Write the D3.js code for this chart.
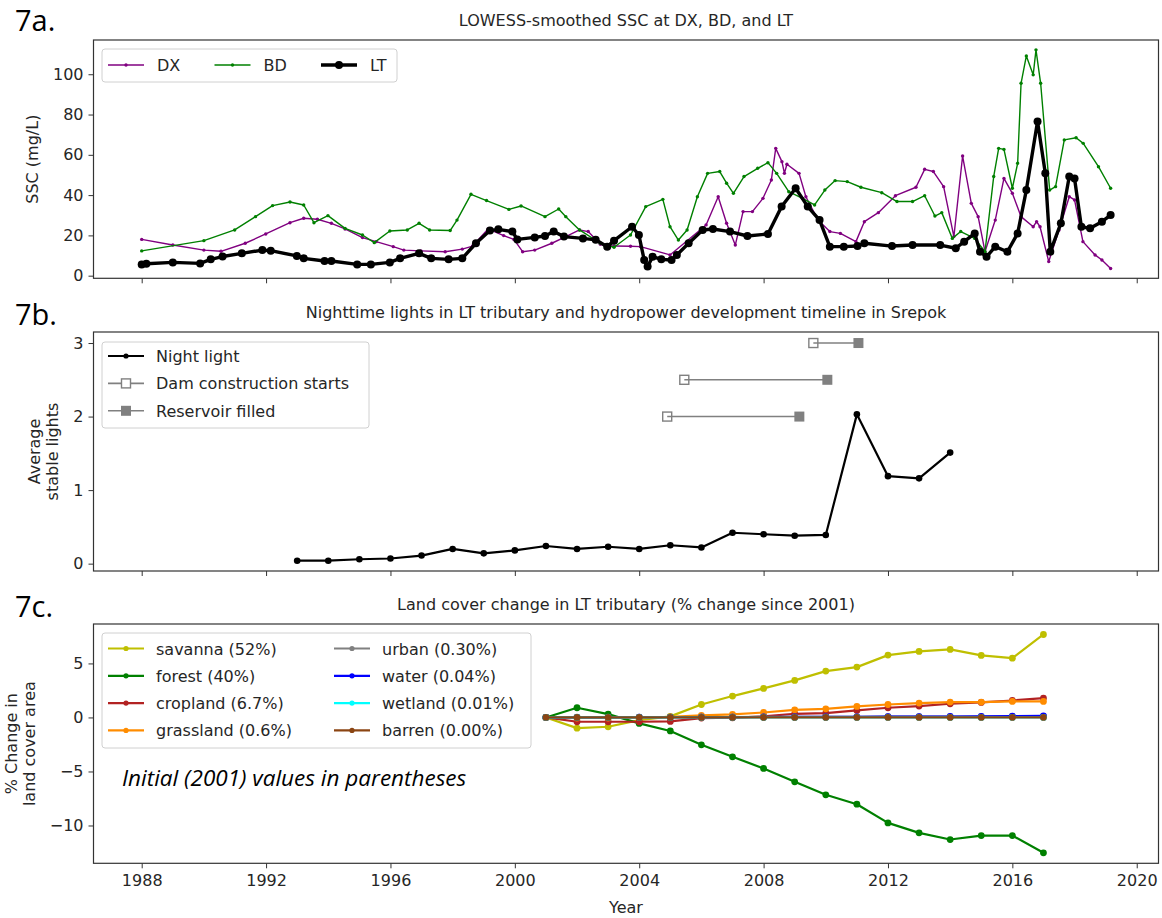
<!DOCTYPE html>
<html>
<head>
<meta charset="utf-8">
<script src="https://cdn.jsdelivr.net/npm/d3@7"></script>
<style>
  body { margin: 0; background: #fff; }
  svg { display: block; }
  text { font-family: "DejaVu Sans", sans-serif; fill: #262626; }
</style>
</head>
<body>
<svg id="fig" width="1162" height="918"></svg>
<script>
// ---------- 7a: LOWESS-smoothed SSC (mg/L) ----------
const dxYear = [1988.00, 1989.00, 1990.00, 1990.55, 1991.33, 1991.99, 1992.77, 1993.21, 1993.65, 1994.10, 1994.54, 1995.10, 1995.54, 1996.09, 1996.43, 1996.98, 1997.76, 1998.31, 1998.64, 1999.14, 1999.64, 1999.97, 2000.25, 2000.64, 2001.19, 2001.64, 2002.08, 2002.36, 2002.75, 2003.19, 2003.72, 2004.04, 2004.99, 2006.15, 2006.54, 2006.81, 2007.09, 2007.34, 2007.64, 2007.98, 2008.25, 2008.39, 2008.59, 2008.67, 2008.75, 2009.14, 2009.36, 2009.75, 2010.13, 2010.47, 2010.97, 2011.24, 2011.69, 2012.24, 2012.90, 2013.18, 2013.46, 2013.79, 2014.12, 2014.40, 2014.68, 2014.90, 2015.12, 2015.45, 2015.73, 2016.00, 2016.28, 2016.67, 2016.78, 2016.89, 2017.17, 2017.50, 2017.83, 2018.00, 2018.27, 2018.66, 2018.88, 2019.16];
const dxSSC = [18.0, 15.2, 12.7, 12.1, 16.1, 20.7, 26.3, 28.5, 28.0, 26.0, 23.2, 18.9, 16.9, 14.4, 12.7, 12.3, 11.9, 13.2, 14.7, 23.2, 19.9, 18.0, 11.9, 12.7, 16.1, 19.4, 22.7, 21.9, 15.6, 14.7, 14.6, 14.4, 10.3, 25.2, 39.2, 26.0, 15.2, 31.8, 31.8, 38.4, 47.5, 63.2, 56.6, 50.8, 55.3, 50.8, 39.2, 27.6, 21.9, 21.0, 16.9, 26.8, 31.3, 39.7, 43.9, 52.8, 51.7, 44.2, 19.4, 59.4, 35.9, 29.3, 11.9, 27.6, 48.3, 40.9, 29.3, 24.3, 26.8, 24.3, 7.0, 22.7, 39.2, 37.6, 16.9, 10.3, 7.8, 3.6];

const bdYear = [1988.00, 1990.00, 1990.99, 1991.66, 1992.21, 1992.77, 1993.21, 1993.54, 1993.99, 1994.54, 1995.10, 1995.48, 1995.98, 1996.54, 1996.92, 1997.26, 1997.92, 1998.14, 1998.59, 1999.09, 1999.81, 2000.20, 2000.97, 2001.41, 2001.64, 2002.08, 2002.75, 2003.19, 2003.72, 2004.21, 2004.76, 2004.99, 2005.26, 2005.54, 2005.87, 2006.20, 2006.59, 2006.81, 2007.03, 2007.37, 2007.81, 2008.14, 2008.42, 2008.81, 2009.25, 2009.64, 2009.97, 2010.30, 2010.69, 2011.13, 2011.80, 2012.29, 2012.79, 2013.18, 2013.51, 2013.73, 2014.07, 2014.34, 2014.79, 2015.12, 2015.40, 2015.56, 2015.73, 2016.00, 2016.17, 2016.28, 2016.45, 2016.67, 2016.76, 2016.91, 2017.20, 2017.39, 2017.67, 2018.05, 2018.28, 2018.77, 2019.16];
const bdSSC = [12.3, 17.4, 22.7, 29.3, 34.8, 36.6, 35.1, 26.3, 29.8, 23.5, 20.2, 16.4, 22.2, 22.7, 26.0, 22.7, 22.4, 27.6, 40.4, 37.3, 32.9, 34.6, 29.3, 33.1, 29.3, 22.7, 16.1, 14.1, 20.2, 34.3, 37.9, 24.3, 17.7, 22.7, 39.2, 50.8, 51.7, 45.9, 40.9, 49.2, 53.3, 56.1, 50.8, 41.7, 38.4, 35.1, 42.5, 47.2, 46.7, 43.9, 41.2, 36.8, 36.8, 39.7, 29.6, 31.3, 18.5, 21.9, 18.5, 11.9, 49.2, 63.2, 62.7, 43.4, 55.8, 95.5, 109.1, 99.7, 112.1, 95.5, 42.5, 44.2, 67.4, 68.5, 65.7, 54.1, 43.4];

const ltYear = [1988.00, 1988.15, 1989.00, 1989.88, 1990.22, 1990.60, 1991.22, 1991.88, 1992.15, 1992.99, 1993.21, 1993.88, 1994.10, 1994.93, 1995.37, 1995.98, 1996.31, 1996.92, 1997.31, 1997.87, 1998.31, 1998.75, 1999.20, 1999.47, 1999.92, 2000.08, 2000.64, 2000.97, 2001.25, 2001.58, 2002.19, 2002.60, 2002.97, 2003.19, 2003.77, 2003.99, 2004.16, 2004.27, 2004.43, 2004.71, 2005.04, 2005.21, 2005.59, 2006.04, 2006.37, 2006.92, 2007.48, 2008.14, 2008.58, 2009.03, 2009.42, 2009.80, 2010.13, 2010.58, 2011.02, 2011.24, 2012.13, 2012.79, 2013.68, 2014.18, 2014.45, 2014.79, 2014.96, 2015.17, 2015.45, 2015.84, 2016.17, 2016.45, 2016.81, 2017.06, 2017.22, 2017.56, 2017.83, 2018.00, 2018.22, 2018.50, 2018.88, 2019.16];
const ltSSC = [5.6, 5.9, 6.6, 6.1, 8.1, 9.5, 11.1, 12.7, 12.4, 9.8, 8.6, 7.3, 7.3, 5.6, 5.6, 6.6, 8.6, 11.1, 8.6, 8.1, 8.6, 16.1, 22.4, 23.0, 21.9, 18.0, 19.0, 19.7, 21.9, 19.4, 18.5, 17.8, 14.4, 17.4, 24.3, 20.2, 7.8, 4.5, 9.4, 8.1, 7.8, 10.3, 16.1, 22.7, 23.2, 21.9, 19.7, 20.7, 34.3, 43.4, 34.3, 27.6, 14.4, 14.4, 14.7, 16.1, 14.7, 15.2, 15.2, 13.6, 16.9, 21.0, 11.9, 9.4, 14.4, 11.9, 21.0, 42.5, 76.5, 50.8, 11.9, 26.0, 49.2, 48.3, 24.3, 23.5, 26.8, 30.1];

const sscTicks = [0, 20, 40, 60, 80, 100];

// ---------- 7b: night lights and dam timeline ----------
const lightYears = [1993, 1994, 1995, 1996, 1997, 1998, 1999, 2000, 2001, 2002, 2003, 2004, 2005, 2006, 2007, 2008, 2009, 2010, 2011, 2012, 2013, 2014];
const lightValues = [0.04, 0.04, 0.06, 0.07, 0.11, 0.20, 0.14, 0.18, 0.24, 0.20, 0.23, 0.20, 0.25, 0.22, 0.42, 0.40, 0.38, 0.39, 2.03, 1.19, 1.16, 1.51];
const damStart = [2004.9, 2005.45, 2009.6];
const damFilled = [2009.15, 2010.05, 2011.05];
const damRow = [2, 2.5, 3];
const lightTicks = [0, 1, 2, 3];

// ---------- 7c: land cover change since 2001 (%) ----------
const landYears = [2001, 2002, 2003, 2004, 2005, 2006, 2007, 2008, 2009, 2010, 2011, 2012, 2013, 2014, 2015, 2016, 2017];
const savanna   = [0, -0.99, -0.86, -0.25, 0.10, 1.20, 1.98, 2.69, 3.43, 4.29, 4.66, 5.77, 6.11, 6.30, 5.74, 5.49, 7.68];
const forest    = [0, 0.90, 0.31, -0.55, -1.25, -2.53, -3.64, -4.72, -5.96, -7.16, -8.03, -9.76, -10.68, -11.30, -10.93, -10.93, -12.53];
const cropland  = [0, -0.40, -0.40, -0.40, -0.37, -0.06, -0.03, 0.10, 0.34, 0.40, 0.65, 0.90, 1.05, 1.27, 1.39, 1.57, 1.79];
const grassland = [0, -0.05, -0.05, 0.00, 0.05, 0.20, 0.28, 0.46, 0.71, 0.80, 1.02, 1.20, 1.33, 1.42, 1.42, 1.48, 1.48];
const urban     = [0, 0.02, 0.02, 0.03, 0.03, 0.04, 0.04, 0.05, 0.05, 0.06, 0.06, 0.07, 0.07, 0.08, 0.08, 0.09, 0.10];
const water     = [0, 0.01, 0.01, 0.02, 0.02, 0.03, 0.03, 0.04, 0.05, 0.05, 0.06, 0.07, 0.08, 0.09, 0.10, 0.12, 0.15];
const wetland   = [0, 0, 0, 0, 0, 0, 0, 0, 0, 0, 0, 0, 0, 0, 0, 0, 0];
const barren    = [0, 0, 0, 0, 0, 0, 0, 0, 0, 0, 0, 0, 0, 0, 0, 0, 0];
const landNames = ["savanna (52%)", "forest (40%)", "cropland (6.7%)", "grassland (0.6%)", "urban (0.30%)", "water (0.04%)", "wetland (0.01%)", "barren (0.00%)"];
const landTicks = [-10, -5, 0, 5];

const yearTicks = [1988, 1992, 1996, 2000, 2004, 2008, 2012, 2016, 2020];

// ---------- layout ----------
const svg = d3.select("#fig");
const left = 93.5, right = 1158.5;
const axisColor = "#333";
const x = d3.scaleLinear().domain([1986.45, 2020.7]).range([left, right]);

const panels = {
  a: { top: 40, bottom: 278.3, y: d3.scaleLinear().domain([-1.3, 117]).range([278.3, 40]) },
  b: { top: 332, bottom: 571, y: d3.scaleLinear().domain([-0.10, 3.15]).range([571, 332]) },
  c: { top: 624, bottom: 863.3, y: d3.scaleLinear().domain([-13.5, 8.65]).range([863.3, 624]) }
};

function frame(p, yTicks, title, showXLabels, letter, letterY) {
  const g = svg.append("g");
  const xa = d3.axisBottom(x).tickValues(yearTicks).tickSize(5).tickPadding(6)
    .tickFormat(showXLabels ? d3.format("d") : () => "");
  const gx = g.append("g").attr("transform", `translate(0,${p.bottom})`).call(xa);
  const ya = d3.axisLeft(p.y).tickValues(yTicks).tickSize(5).tickPadding(5).tickFormat(d3.format("d"));
  const gy = g.append("g").attr("transform", `translate(${left},0)`).call(ya);
  [gx, gy].forEach(a => {
    a.select(".domain").remove();
    a.selectAll(".tick line").attr("stroke", axisColor).attr("stroke-width", 1);
    a.selectAll(".tick text").attr("fill", "#262626").style("font-size", "16px")
      .style("font-family", "DejaVu Sans");
  });
  svg.append("rect").attr("x", left).attr("y", p.top)
    .attr("width", right - left).attr("height", p.bottom - p.top)
    .attr("fill", "none").attr("stroke", axisColor).attr("stroke-width", 1.2);
  svg.append("text").attr("x", (left + right) / 2).attr("y", p.top - 14)
    .attr("text-anchor", "middle").style("font-size", "16px").text(title);
  svg.append("text").attr("x", 15).attr("y", letterY)
    .style("font-family", "Open Sans").style("font-size", "29px").style("fill", "#000")
    .text(letter);
  return g;
}

function legendBox(x0, y0, w, h) {
  svg.append("rect").attr("x", x0).attr("y", y0).attr("width", w).attr("height", h)
    .attr("rx", 3).attr("fill", "#fff").attr("fill-opacity", 0.8)
    .attr("stroke", "#d0d0d0").attr("stroke-width", 1);
}

// Rotated y-axis label lines, baselines at the given x positions
function yLabel(lines, cy) {
  lines.forEach(([t, bx]) => {
    svg.append("text").attr("transform", `translate(${bx},${cy}) rotate(-90)`)
      .attr("text-anchor", "middle").style("font-size", "16px").text(t);
  });
}

// ---------- panel a ----------
const pa = panels.a;
frame(pa, sscTicks, "LOWESS-smoothed SSC at DX, BD, and LT", false, "7a.", 31);
yLabel([["SSC (mg/L)", 38]], (pa.top + pa.bottom) / 2);

const sscSeries = [
  { name: "DX", years: dxYear, vals: dxSSC, color: "#800080", lw: 1.4, r: 1.7 },
  { name: "BD", years: bdYear, vals: bdSSC, color: "#008000", lw: 1.4, r: 1.7 },
  { name: "LT", years: ltYear, vals: ltSSC, color: "#000000", lw: 3.4, r: 4 }
];
sscSeries.forEach(s => {
  const pts = s.years.map((yr, i) => [yr, s.vals[i]]);
  const line = d3.line().x(d => x(d[0])).y(d => pa.y(d[1]));
  const g = svg.append("g");
  g.append("path").datum(pts).attr("d", line).attr("fill", "none")
    .attr("stroke", s.color).attr("stroke-width", s.lw).attr("stroke-linejoin", "round");
  g.selectAll("circle").data(pts).join("circle")
    .attr("cx", d => x(d[0])).attr("cy", d => pa.y(d[1])).attr("r", s.r).attr("fill", s.color);
});

legendBox(102, 49, 295, 33);
sscSeries.forEach((s, i) => {
  const lx = 108 + i * 106.5, ly = 65;
  svg.append("line").attr("x1", lx).attr("x2", lx + 36).attr("y1", ly).attr("y2", ly)
    .attr("stroke", s.color).attr("stroke-width", s.lw);
  svg.append("circle").attr("cx", lx + 18).attr("cy", ly).attr("r", s.r).attr("fill", s.color);
  svg.append("text").attr("x", lx + 49).attr("y", ly + 5.5).style("font-size", "16px").text(s.name);
});

// ---------- panel b ----------
const pb = panels.b;
frame(pb, lightTicks, "Nighttime lights in LT tributary and hydropower development timeline in Srepok", false, "7b.", 325);
yLabel([["Average", 40], ["stable lights", 58]], (pb.top + pb.bottom) / 2);

const damColor = "#808080";
damRow.forEach((r, i) => {
  const y = pb.y(r);
  svg.append("line").attr("x1", x(damStart[i])).attr("x2", x(damFilled[i])).attr("y1", y).attr("y2", y)
    .attr("stroke", damColor).attr("stroke-width", 1.6);
  svg.append("rect").attr("x", x(damStart[i]) - 4.5).attr("y", y - 4.5).attr("width", 9).attr("height", 9)
    .attr("fill", "none").attr("stroke", damColor).attr("stroke-width", 1.4);
  svg.append("rect").attr("x", x(damFilled[i]) - 5).attr("y", y - 5).attr("width", 10).attr("height", 10)
    .attr("fill", damColor);
});

const lightPts = lightYears.map((yr, i) => [yr, lightValues[i]]);
svg.append("path").datum(lightPts)
  .attr("d", d3.line().x(d => x(d[0])).y(d => pb.y(d[1])))
  .attr("fill", "none").attr("stroke", "#000").attr("stroke-width", 2.2).attr("stroke-linejoin", "round");
svg.append("g").selectAll("circle").data(lightPts).join("circle")
  .attr("cx", d => x(d[0])).attr("cy", d => pb.y(d[1])).attr("r", 3.3).attr("fill", "#000");

legendBox(102, 342, 267, 86);
const lgB = [
  { label: "Night light", kind: "dot" },
  { label: "Dam construction starts", kind: "open" },
  { label: "Reservoir filled", kind: "filled" }
];
lgB.forEach((e, i) => {
  const lx = 108, ly = 356 + i * 27.4;
  if (e.kind === "dot") {
    svg.append("line").attr("x1", lx).attr("x2", lx + 36).attr("y1", ly).attr("y2", ly)
      .attr("stroke", "#000").attr("stroke-width", 2.2);
    svg.append("circle").attr("cx", lx + 18).attr("cy", ly).attr("r", 2.6).attr("fill", "#000");
  } else {
    svg.append("line").attr("x1", lx).attr("x2", lx + 36).attr("y1", ly).attr("y2", ly)
      .attr("stroke", damColor).attr("stroke-width", 1.6);
    if (e.kind === "open") {
      svg.append("rect").attr("x", lx + 13.5).attr("y", ly - 4.5).attr("width", 9).attr("height", 9)
        .attr("fill", "#fff").attr("stroke", damColor).attr("stroke-width", 1.4);
    } else {
      svg.append("rect").attr("x", lx + 13).attr("y", ly - 5).attr("width", 10).attr("height", 10)
        .attr("fill", damColor);
    }
  }
  svg.append("text").attr("x", lx + 48).attr("y", ly + 6).style("font-size", "16px").text(e.label);
});

// ---------- panel c ----------
const pc = panels.c;
frame(pc, landTicks, "Land cover change in LT tributary (% change since 2001)", true, "7c.", 617);
yLabel([["% Change in", 17], ["land cover area", 35]], (pc.top + pc.bottom) / 2);
svg.append("text").attr("x", (left + right) / 2).attr("y", 913)
  .attr("text-anchor", "middle").style("font-size", "16px").text("Year");

const landSeries = [savanna, forest, cropland, grassland, urban, water, wetland, barren];
const landColors = ["#bfbf00", "#008000", "#b22222", "#ff8c00", "#808080", "#0000ff", "#00ffff", "#8b4513"];
landSeries.forEach((vals, k) => {
  const pts = landYears.map((yr, i) => [yr, vals[i]]);
  const g = svg.append("g");
  g.append("path").datum(pts)
    .attr("d", d3.line().x(d => x(d[0])).y(d => pc.y(d[1])))
    .attr("fill", "none").attr("stroke", landColors[k]).attr("stroke-width", 2.2).attr("stroke-linejoin", "round");
  g.selectAll("circle").data(pts).join("circle")
    .attr("cx", d => x(d[0])).attr("cy", d => pc.y(d[1])).attr("r", 3.4).attr("fill", landColors[k]);
});

legendBox(102, 633, 429, 115);
landNames.forEach((name, k) => {
  const col = Math.floor(k / 4), row = k % 4;
  const lx = col === 0 ? 108 : 334, ly = 648.5 + row * 27.3;
  svg.append("line").attr("x1", lx).attr("x2", lx + 36).attr("y1", ly).attr("y2", ly)
    .attr("stroke", landColors[k]).attr("stroke-width", 2.2);
  svg.append("circle").attr("cx", lx + 18).attr("cy", ly).attr("r", 2.6).attr("fill", landColors[k]);
  svg.append("text").attr("x", lx + 48).attr("y", ly + 6).style("font-size", "16px").text(name);
});

svg.append("text").attr("x", 122).attr("y", 786)
  .style("font-family", "Open Sans").style("font-style", "italic").style("font-size", "22.5px")
  .style("fill", "#000").text("Initial (2001) values in parentheses");
</script>
</body>
</html>
